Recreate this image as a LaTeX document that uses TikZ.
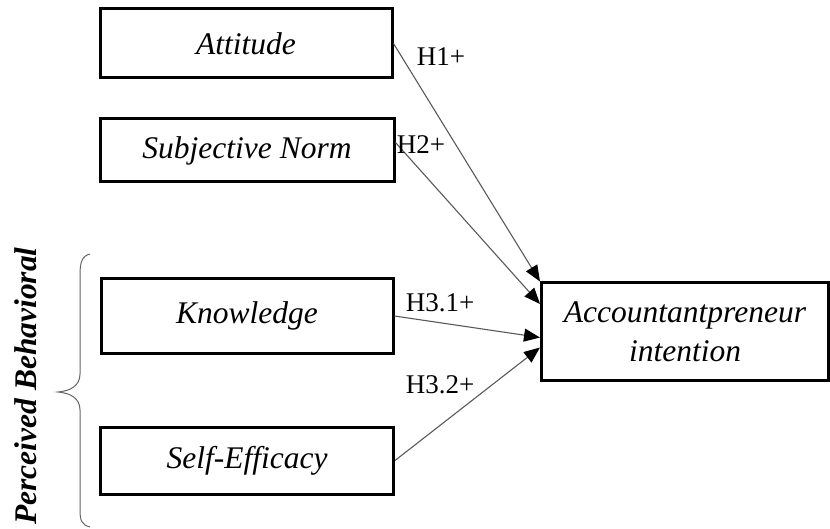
\documentclass[tikz,border=0pt]{standalone}
\usepackage{fontspec}
\setmainfont{Liberation Serif}
\usetikzlibrary{arrows.meta}
\tikzset{
  construct/.style={draw, line width=3pt, inner sep=0pt, align=center,
    font=\fontsize{31.5}{39}\selectfont\itshape},
  hyp/.style={inner sep=0pt, font=\fontsize{27}{32}\selectfont},
  link/.style={draw=black!65, line width=1.1pt,
    -{Triangle[length=16pt,width=13pt,color=black]}}
}
\begin{document}
\begin{tikzpicture}[x=1pt,y=-1pt]
  \useasboundingbox (0,0) rectangle (830,529);

  % CONSTRUCTS
  \node[construct, minimum width=292pt, minimum height=69pt] (att)  at (246,43.5)  {Attitude};
  \node[construct, minimum width=294pt, minimum height=63pt] (sn)   at (247,150.5) {Subjective Norm};
  \node[construct, minimum width=292pt, minimum height=74pt] (know) at (247,316)   {Knowledge};
  \node[construct, minimum width=293pt, minimum height=67pt] (se)   at (247,460.5) {Self-Efficacy};
  \node[construct, minimum width=287pt, minimum height=97pt] (ai)   at (685,331.5) {Accountantpreneur\\intention};

  % ARROWS
  \draw[link] (att.east) -- (ai.north west);
  \draw[link] ([yshift=8pt]sn.east) -- ([yshift=27.5pt]ai.west);
  \draw[link] (know.east) -- ([yshift=-6pt]ai.west);
  \draw[link] (se.east) -- ([yshift=-16pt]ai.west);

  % NOTES
  \node[hyp] (h1)  at (441,57)  {H1+};
  \node[hyp] (h2)  at (421,145) {H2+};
  \node[hyp] (h31) at (440,303) {H3.1+};
  \node[hyp] (h32) at (440,385) {H3.2+};

  % BRACE
  \draw[black!60, line width=1pt] (90,254) .. controls (82,256) and (80,262) .. (80,275)
    -- (80,374) .. controls (80,386) and (70,391) .. (58,392)
    .. controls (70,393) and (80,398) .. (80,410)
    -- (80,510) .. controls (80,521) and (82,525) .. (90,527);
  \node[rotate=90, inner sep=0pt, font=\fontsize{31.5}{38}\selectfont\bfseries\itshape] (pbc) at (26,386) {Perceived Behavioral};
\end{tikzpicture}
\end{document}
